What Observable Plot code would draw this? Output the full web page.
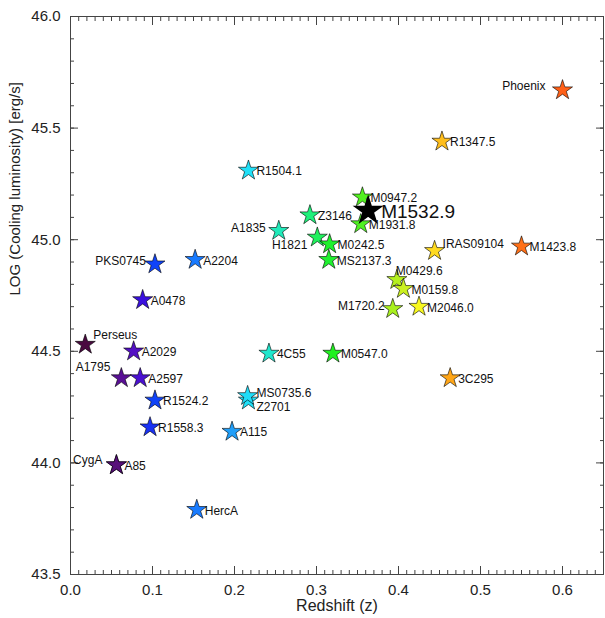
<!DOCTYPE html>
<html><head><meta charset="utf-8">
<script src="https://cdn.jsdelivr.net/npm/d3@7"></script>
<script src="https://cdn.jsdelivr.net/npm/@observablehq/plot@0.6"></script>
<style>
body{margin:0;background:#fff}
#chart svg{font-family:"Liberation Sans",Arial,sans-serif;background:#fff}
</style>
</head><body><div id="chart"></div>
<script>
// ---- data ----
const names = ["Perseus","CygA","A85","A1795","A2029","A2597","A0478","R1558.3","PKS0745","R1524.2","A2204","HercA","A115","Z2701","MS0735.6","R1504.1","4C55","A1835","Z3146","H1821","MS2137.3","M0242.5","M0547.0","M1931.8","M0947.2","M1720.2","M0429.6","M0159.8","M2046.0","IRAS09104","R1347.5","3C295","M1423.8","Phoenix","M1532.9"];
const redshift = [0.018,0.056,0.056,0.062,0.077,0.085,0.088,0.097,0.103,0.103,0.152,0.154,0.197,0.217,0.216,0.217,0.242,0.254,0.292,0.301,0.315,0.316,0.320,0.354,0.356,0.393,0.398,0.406,0.425,0.444,0.453,0.463,0.550,0.600,0.363];
const logLcool = [44.53,43.99,43.99,44.38,44.50,44.38,44.73,44.16,44.89,44.28,44.91,43.79,44.14,44.28,44.30,45.31,44.49,45.04,45.11,45.01,44.91,44.98,44.49,45.07,45.19,44.69,44.82,44.78,44.70,44.95,45.44,44.38,44.97,45.67,45.13];
const highlight = "M1532.9";
const xTickValues = [0,0.1,0.2,0.3,0.4,0.5,0.6];
const yTickValues = [43.5,44.0,44.5,45.0,45.5,46.0];
const xTitle = "Redshift (z)";
const yTitle = "LOG (Cooling luminosity) [erg/s]";

// ---- layout / style ----
const xMinor = d3.range(0, 66).map(i => i / 100);
const yMinor = d3.range(0, 26).map(i => 43.5 + i / 10);
const labelPlace = {
  "PKS0745": ["end", -9, -3],
  "Perseus": ["start", 8, -9],
  "A1795": ["end", -11, -11],
  "CygA": ["end", -14, -5],
  "Phoenix": ["end", -17, -4],
  "A1835": ["end", -13, -3],
  "H1821": ["end", -10, 8],
  "IRAS09104": ["start", 8, -7],
  "M0429.6": ["start", -1, -9],
  "M1720.2": ["end", -8, -3],
  "MS0735.6": ["start", 9, -3],
  "Z2701": ["start", 8, 7]
};
const data = names.map((n, i) => ({name: n, z: redshift[i], L: logLcool[i]}));
const place = d => labelPlace[d.name] || ["start", 8, 1];
const groups = d3.groups(data.filter(d => d.name !== highlight), d => place(d).join("|"));

const labelMarks = groups.map(([key, rows]) => {
  const [anchor, dx, dy] = key.split("|");
  return Plot.text(rows, {x: "z", y: "L", text: "name", textAnchor: anchor, dx: +dx, dy: +dy, fontSize: 12, fill: "#111"});
});

const tickStroke = "#444";
const chart = Plot.plot({
  width: 605, height: 618,
  marginLeft: 70, marginRight: 2, marginTop: 16, marginBottom: 44,
  x: {domain: [0, 0.65]},
  y: {domain: [43.5, 46.0]},
  color: {type: "linear",
    domain: [0.018,0.056,0.07,0.085,0.09,0.1,0.15,0.2,0.217,0.245,0.29,0.32,0.355,0.39,0.405,0.425,0.445,0.46,0.55,0.6],
    range: ["#4a0a40","#58107a","#5a10b8","#4a10d0","#3010e8","#1040f8","#1878ff","#20a0f8","#20e0f8","#20e8c8","#20f080","#20f020","#50f020","#a0f020","#c8f020","#f8f820","#ffd820","#ffa818","#ff7018","#ff6018"]},
  marks: [
    Plot.frame({stroke: tickStroke}),
    // minor ticks (inward, all sides)
    Plot.axisX(xMinor, {anchor: "bottom", tickSize: -4, tickFormat: () => "", label: null, stroke: tickStroke}),
    Plot.axisX(xMinor, {anchor: "top", tickSize: -4, tickFormat: () => "", label: null, stroke: tickStroke}),
    Plot.axisY(yMinor, {anchor: "left", tickSize: -4, tickFormat: () => "", label: null, stroke: tickStroke}),
    Plot.axisY(yMinor, {anchor: "right", tickSize: -4, tickFormat: () => "", label: null, stroke: tickStroke}),
    // major ticks
    Plot.axisX(xTickValues, {anchor: "bottom", tickSize: -8, tickFormat: () => "", label: null, stroke: tickStroke}),
    Plot.axisX(xTickValues, {anchor: "top", tickSize: -8, tickFormat: () => "", label: null, stroke: tickStroke}),
    Plot.axisY(yTickValues, {anchor: "left", tickSize: -8, tickFormat: () => "", label: null, stroke: tickStroke}),
    Plot.axisY(yTickValues, {anchor: "right", tickSize: -8, tickFormat: () => "", label: null, stroke: tickStroke}),
    // tick labels
    Plot.axisX(xTickValues, {anchor: "bottom", tickSize: 0, tickPadding: 10, tickFormat: d3.format(".1f"), label: null, fontSize: 15, fill: "#222"}),
    Plot.axisY(yTickValues, {anchor: "left", tickSize: 0, tickPadding: 10, tickFormat: d3.format(".1f"), label: null, fontSize: 15, fill: "#222"}),
    // titles
    Plot.text([xTitle], {frameAnchor: "bottom", dy: 36, fontSize: 16, fill: "#222", style: "letter-spacing:0.5px"}),
    Plot.text([yTitle], {frameAnchor: "left", dx: -55, rotate: -90, fontSize: 15, fill: "#222", style: "letter-spacing:1.2px"}),
    // stars
    Plot.dot(data.filter(d => d.name !== highlight), {x: "z", y: "L", symbol: "star", r: 6.3, fill: "z", stroke: "#000", strokeWidth: 0.6}),
    Plot.dot(data.filter(d => d.name === highlight), {x: "z", y: "L", symbol: "star", r: 8.3, fill: "#000", stroke: "#000"}),
    ...labelMarks,
    Plot.text(data.filter(d => d.name === highlight), {x: "z", y: "L", text: "name", textAnchor: "start", dx: 13, dy: 1, fontSize: 19, fill: "#111"})
  ]
});
document.getElementById("chart").appendChild(chart);
</script>
</body></html>
